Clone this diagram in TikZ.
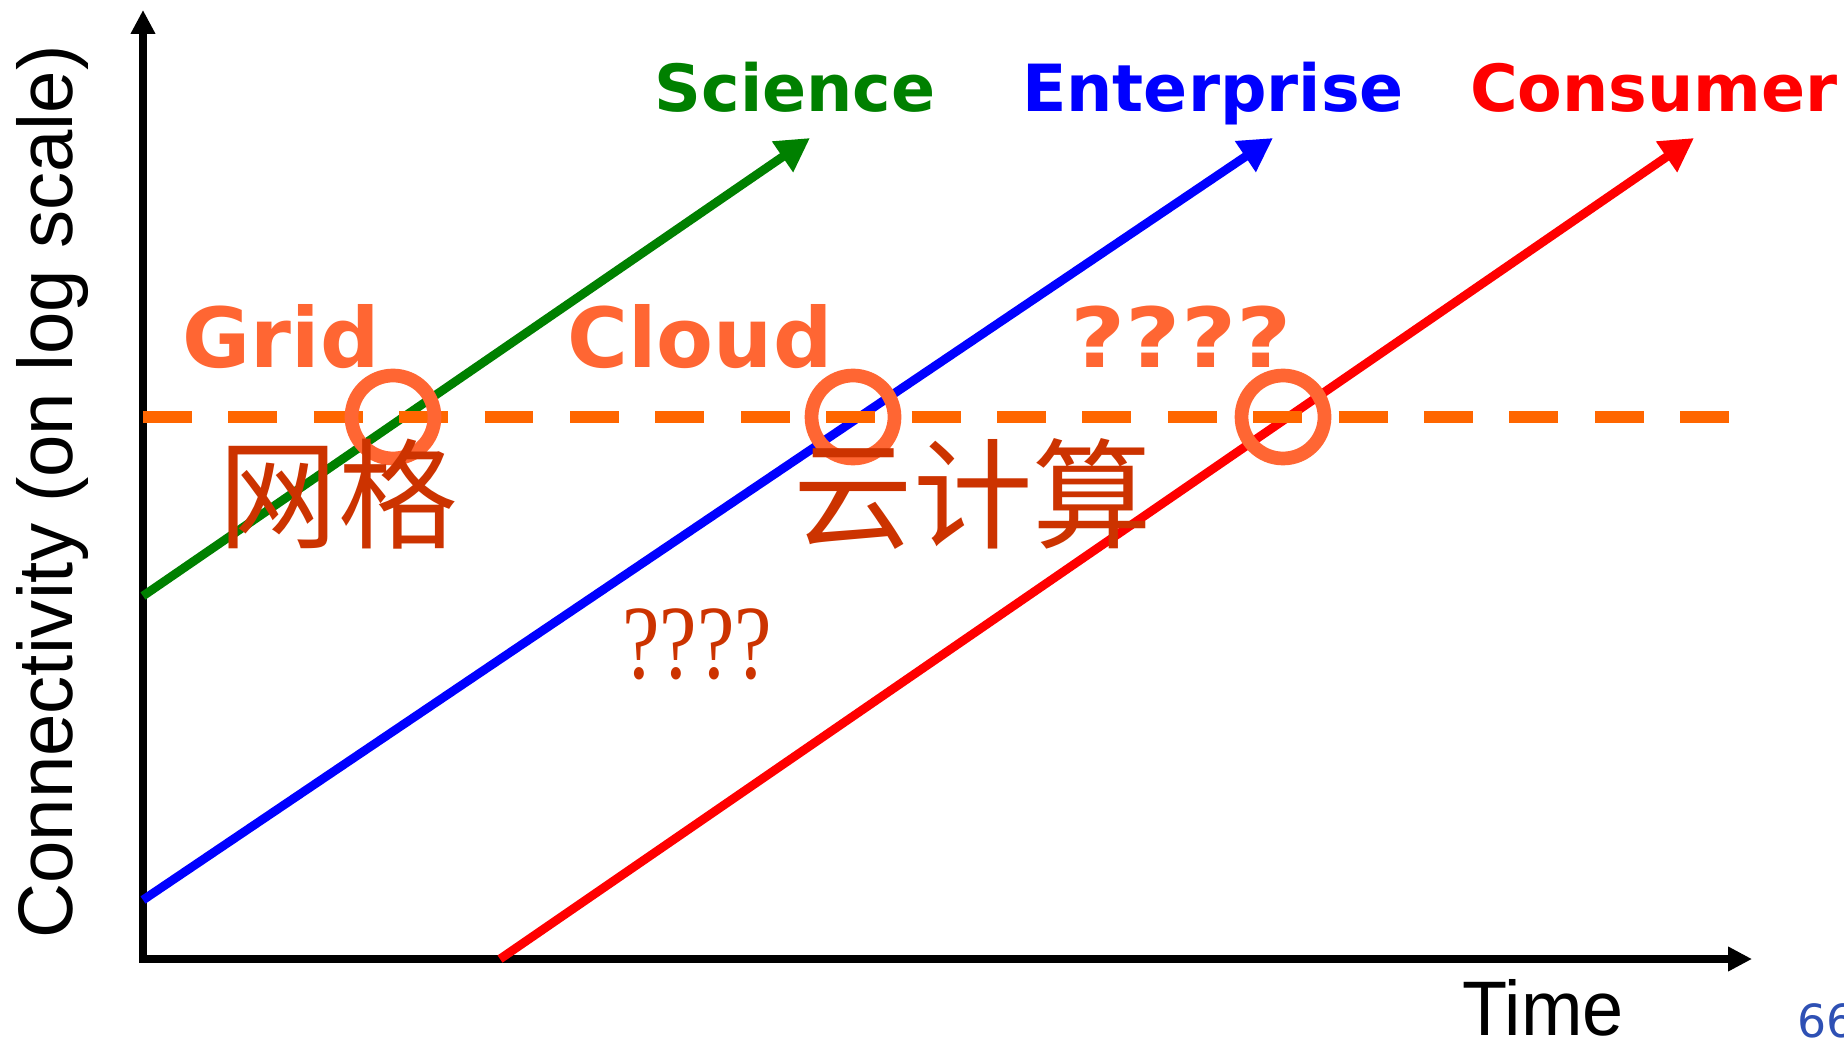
\documentclass[tikz,border=0pt]{standalone}
\usepackage{fontspec}
\usepackage{tikz}
\usetikzlibrary{arrows.meta}
\setmainfont{Liberation Sans}
\newfontfamily\verd{DejaVu Sans}
\newfontfamily\cjk{Noto Sans CJK SC}
\newfontfamily\qfont{Liberation Serif}
\definecolor{sci}{RGB}{0,128,0}
\definecolor{ent}{RGB}{0,0,255}
\definecolor{con}{RGB}{255,0,0}
\definecolor{ring}{RGB}{255,102,51}
\definecolor{cutline}{RGB}{255,102,0}
\definecolor{zhred}{RGB}{204,51,0}
\definecolor{pageno}{RGB}{46,80,180}

\begin{document}
\begin{tikzpicture}[x=0.1mm,y=-0.1mm,>={Triangle[length=9.5pt,width=10pt]}]
  \tikzstyle{every node}=[inner sep=0pt,outer sep=0pt]
  \tikzstyle{axis}=[line width=2.3pt,{Triangle[length=6.8pt,width=6.6pt]}-{Triangle[length=6.8pt,width=6.6pt]}]
  \tikzstyle{trend}=[line width=2.5pt,->]
  \tikzstyle{cut}=[draw=cutline,line width=3.4pt,dash pattern=on 13.9pt off 10.4pt]
  \tikzstyle{ringnode}=[circle,draw=ring,line width=3.9pt,minimum size=8.3mm]
  \tikzstyle{era}=[text=ring,anchor=base,font=\verd\bfseries\fontsize{23.6pt}{26pt}\selectfont]
  \tikzstyle{field}=[anchor=base,font=\verd\bfseries\fontsize{18.5pt}{20pt}\selectfont]
  \tikzstyle{zh}=[text=zhred,font=\cjk\fontsize{34pt}{36pt}\selectfont]
  \tikzstyle{axlabel}=[font=\fontsize{22pt}{24pt}\selectfont]

  \useasboundingbox[fill=white] (0,0) rectangle (1844,1042);

  % axes
  \coordinate (O)    at (143,959);
  \coordinate (ytop) at (143,10);
  \coordinate (xend) at (1752,959);
  \draw[axis] (ytop) -- (O) -- (xend);
  \node[axlabel,rotate=90,anchor=base] (ylab) at (72,492) {\scalebox{0.985}[1]{Connectivity (on log scale)}};
  \node[axlabel,anchor=base] (time) at (1543,1035) {\scalebox{0.955}[1]{Time}};

  % trends
  \coordinate (sci0) at (143,596);
  \coordinate (sci1) at (810,138);
  \coordinate (ent0) at (143,900);
  \coordinate (ent1) at (1273,138);
  \coordinate (con0) at (500,959);
  \coordinate (con1) at (1694,138);
  \draw[trend,sci] (sci0) -- (sci1);
  \draw[trend,ent] (ent0) -- (ent1);
  \draw[trend,con] (con0) -- (con1);

  \node[field,text=sci] (science)    at (795,112)  {Science};
  \node[field,text=ent] (enterprise) at (1213,112) {Enterprise};
  \node[field,text=con] (consumer)   at (1654,112) {Consumer};

  % threshold
  \coordinate (cut0) at (143,417);
  \coordinate (cut1) at (1729,417);
  \draw[cut] (cut0) -- (cut1);

  \node[ringnode] (gridring)  at (393,417)  {};
  \node[ringnode] (cloudring) at (853,417)  {};
  \node[ringnode] (nextring)  at (1283,417) {};

  \node[era] (grid)  at (281,368)  {Grid};
  \node[era] (cloud) at (700,368)  {Cloud};
  \node[era] (next)  at (1181,368) {\scalebox{1.15}[1]{????}};

  \node[zh] (wangge) at (338,494) {网格};
  \node[zh] (yun)    at (973,494) {云计算};
  \node[text=zhred,font=\qfont\fontsize{30pt}{32pt}\selectfont] (unknown) at (697,644) {\scalebox{0.8}[1]{????}};

  \node[anchor=base west,text=pageno,font=\verd\fontsize{13pt}{15pt}\selectfont] (page) at (1797,1037) {66};
\end{tikzpicture}
\end{document}
